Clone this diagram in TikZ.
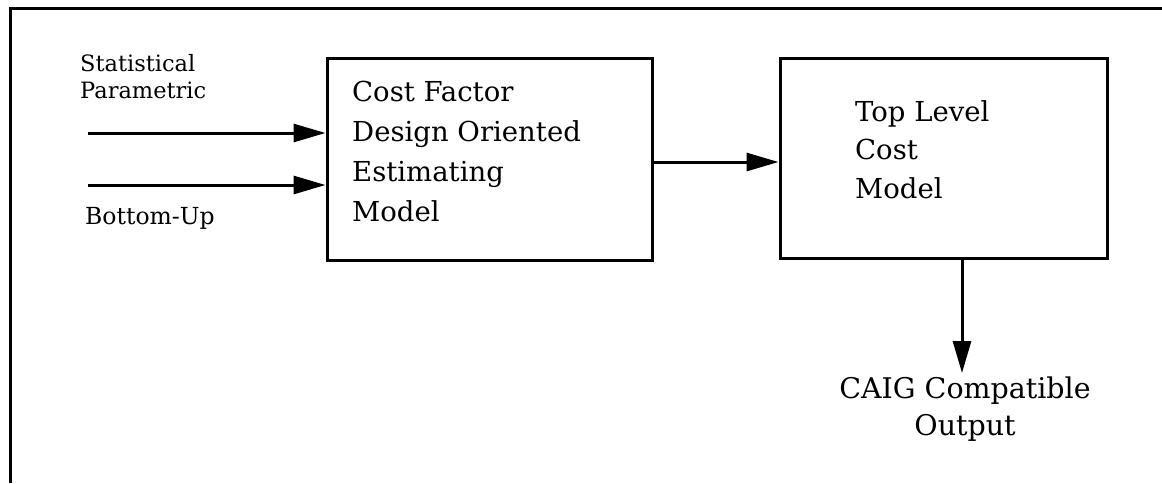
\documentclass[tikz,border=0pt]{standalone}
\usepackage{fontspec}
\setmainfont{DejaVu Serif}
\usetikzlibrary{arrows.meta}
\begin{document}
\begin{tikzpicture}[x=1pt,y=-1pt,
  frameline/.style={line width=3pt},
  box/.style={draw,line width=3pt,inner sep=0pt},
  boxtext/.style={anchor=base west,inner sep=0pt,align=left,
    font=\fontsize{27.5}{40}\selectfont},
  lbl/.style={inner sep=0pt,font=\fontsize{22.5}{27}\selectfont},
  flow/.style={line width=3pt,-{Triangle[length=32pt,width=18pt]}}]
\useasboundingbox (0,0) rectangle (1162,483);
% outer frame (left and top edges)
\draw[frameline] (10,483) -- (10,8) -- (1162,8);
% model boxes
\node[box,minimum width=325pt,minimum height=202pt] (b1) at (489.5,159) {};
\node[box,minimum width=327pt,minimum height=200pt] (b2) at (943.5,158) {};
% box texts, placed by the baseline of their last line
\node[boxtext] (t1) at (352,221) {Cost Factor\\Design Oriented\\Estimating\\Model};
\node[boxtext,font=\fontsize{27.5}{38.5}\selectfont] (t2) at (855,198) {Top Level\\Cost\\Model};
% inputs
\coordinate (s1) at (88,133);
\coordinate (s2) at (88,185);
\draw[flow] (s1) -- (b1.west |- s1);
\draw[flow] (s2) -- (b1.west |- s2);
\node[lbl,anchor=base west,align=left] (l1) at (80,98) {Statistical\\Parametric};
\node[lbl,anchor=base west,font=\fontsize{23.5}{28}\selectfont] (l2) at (85,224) {Bottom-Up};
% flow between the models and to the output
\draw[flow] (b1.east |- 0,162) -- (b2.west |- 0,162);
\node[lbl,anchor=base,align=center,font=\fontsize{28.5}{37}\selectfont] (out) at (965,435) {CAIG Compatible\\Output};
\draw[flow] (b2.south -| 962,0) -- (962,373);
\end{tikzpicture}
\end{document}
